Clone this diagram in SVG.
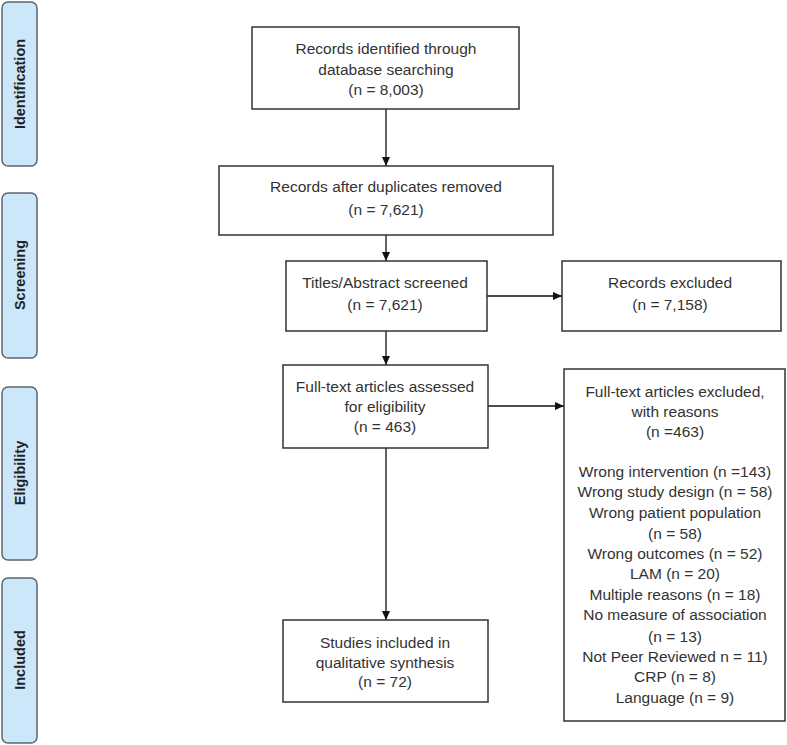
<svg xmlns="http://www.w3.org/2000/svg" width="787" height="745" viewBox="0 0 787 745">
<defs>
<marker id="ah" markerWidth="10" markerHeight="10" refX="9" refY="5" orient="auto" markerUnits="userSpaceOnUse">
<path d="M0,1 L9,5 L0,9 z" fill="#111"/>
</marker>
<style>
.box{fill:#fff;stroke:#333;stroke-width:1.5}
.phase{fill:#cce6fa;stroke:#5c6670;stroke-width:1.5}
.t{font-family:"Liberation Sans",Arial,sans-serif;font-size:15.5px;fill:#333;text-anchor:middle}
.pt{font-family:"Liberation Sans",Arial,sans-serif;font-size:14.5px;font-weight:bold;fill:#222;text-anchor:middle}
.c{stroke:#111;stroke-width:1.3;fill:none;marker-end:url(#ah)}
</style>
</defs>
<rect width="787" height="745" fill="#fff"/>

<g id="phase-identification">
<rect class="phase" x="2" y="2" width="35" height="164" rx="6"/>
<text class="pt" transform="translate(25,84) rotate(-90)">Identification</text>
</g>
<g id="phase-screening">
<rect class="phase" x="2" y="193" width="35" height="165" rx="6"/>
<text class="pt" transform="translate(25,275) rotate(-90)">Screening</text>
</g>
<g id="phase-eligibility">
<rect class="phase" x="2" y="387" width="35" height="173" rx="6"/>
<text class="pt" transform="translate(25,473) rotate(-90)">Eligibility</text>
</g>
<g id="phase-included">
<rect class="phase" x="2" y="578" width="35" height="165" rx="6"/>
<text class="pt" transform="translate(25,660) rotate(-90)">Included</text>
</g>

<g id="connectors">
<line class="c" x1="386" y1="109" x2="386" y2="166"/>
<line class="c" x1="386" y1="235" x2="386" y2="261"/>
<line class="c" x1="487" y1="296" x2="562" y2="296"/>
<line class="c" x1="386" y1="331" x2="386" y2="365"/>
<line class="c" x1="488" y1="406" x2="564" y2="406"/>
<line class="c" x1="386" y1="448" x2="386" y2="620"/>
</g>

<g id="identified">
<rect class="box" x="252" y="27" width="267" height="82"/>
<text class="t" x="386" y="54">Records identified through</text>
<text class="t" x="386" y="75">database searching</text>
<text class="t" x="386" y="95">(n = 8,003)</text>
</g>
<g id="deduplicated">
<rect class="box" x="219" y="166" width="334" height="69"/>
<text class="t" x="386" y="192">Records after duplicates removed</text>
<text class="t" x="386" y="215">(n = 7,621)</text>
</g>
<g id="screened">
<rect class="box" x="286" y="261" width="201" height="70"/>
<text class="t" x="385" y="288">Titles/Abstract screened</text>
<text class="t" x="385" y="310">(n = 7,621)</text>
</g>
<g id="excluded">
<rect class="box" x="562" y="261" width="219" height="70"/>
<text class="t" x="670" y="288">Records excluded</text>
<text class="t" x="670" y="310">(n = 7,158)</text>
</g>
<g id="assessed">
<rect class="box" x="283" y="365" width="205" height="83"/>
<text class="t" x="385" y="392">Full-text articles assessed</text>
<text class="t" x="385" y="412">for eligibility</text>
<text class="t" x="385" y="432">(n = 463)</text>
</g>
<g id="ft-excluded">
<rect class="box" x="564" y="369" width="221" height="352"/>
<text class="t" x="675" y="397">Full-text articles excluded,</text>
<text class="t" x="675" y="417">with reasons</text>
<text class="t" x="675" y="437">(n =463)</text>
<text class="t" x="675" y="477">Wrong intervention (n =143)</text>
<text class="t" x="675" y="497">Wrong study design (n = 58)</text>
<text class="t" x="675" y="518">Wrong patient population</text>
<text class="t" x="675" y="539">(n = 58)</text>
<text class="t" x="675" y="559">Wrong outcomes (n = 52)</text>
<text class="t" x="675" y="579">LAM (n = 20)</text>
<text class="t" x="675" y="600">Multiple reasons (n = 18)</text>
<text class="t" x="675" y="620">No measure of association</text>
<text class="t" x="675" y="642">(n = 13)</text>
<text class="t" x="675" y="662">Not Peer Reviewed n = 11)</text>
<text class="t" x="675" y="682">CRP (n = 8)</text>
<text class="t" x="675" y="703">Language (n = 9)</text>
</g>
<g id="included">
<rect class="box" x="283" y="620" width="205" height="82"/>
<text class="t" x="385" y="648">Studies included in</text>
<text class="t" x="385" y="668">qualitative synthesis</text>
<text class="t" x="385" y="687">(n = 72)</text>
</g>
</svg>
